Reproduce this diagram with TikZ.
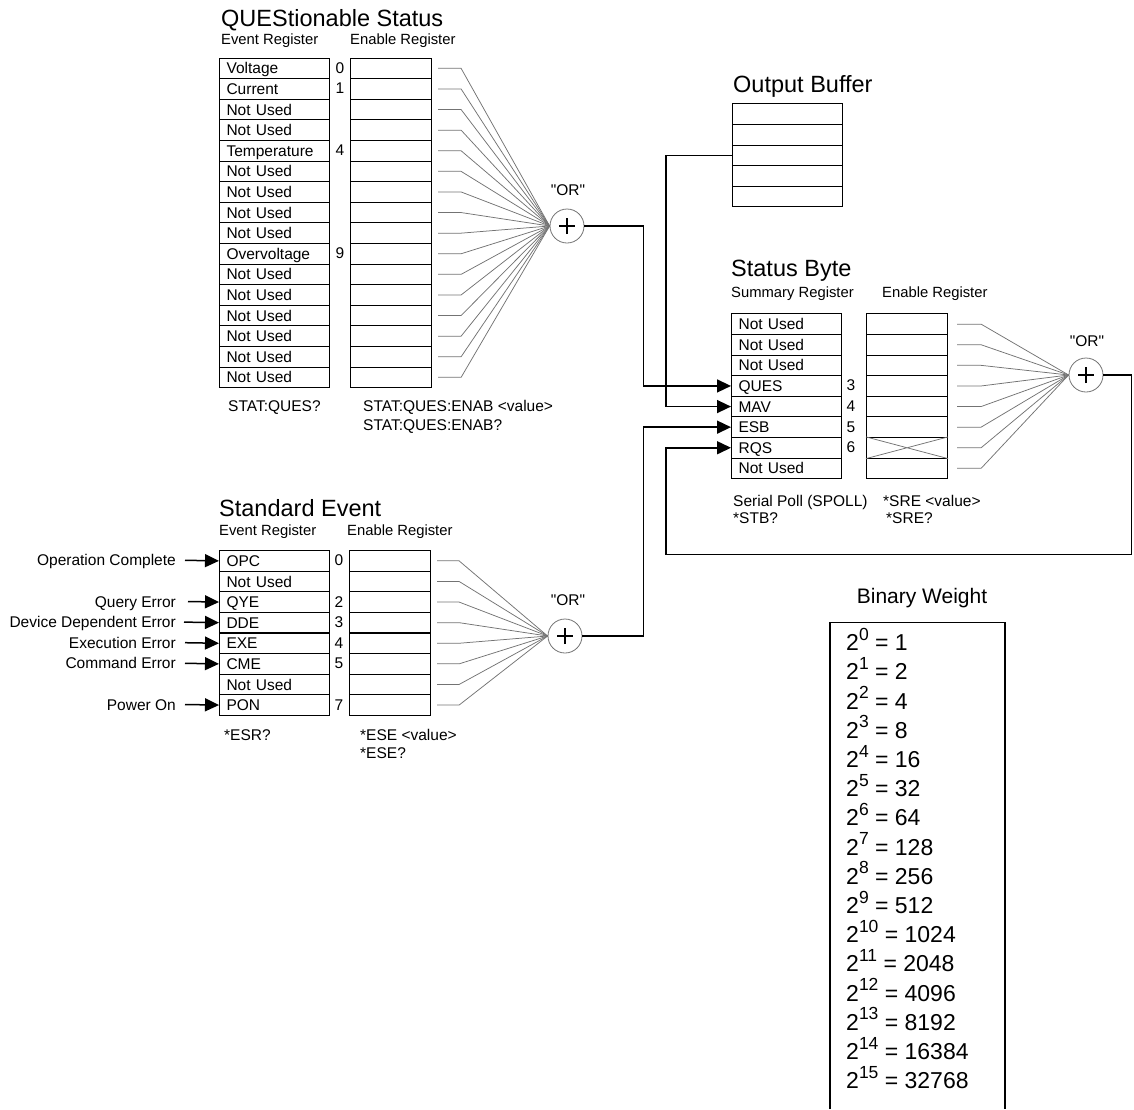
\documentclass[tikz,border=0pt]{standalone}
\usepackage{fontspec}
\setmainfont{Liberation Sans}
\newfontfamily\plainq{Liberation Sans}
\usetikzlibrary{arrows.meta}
\newcommand\fRow{\fontsize{15.5}{18}\selectfont}
\newcommand\fSub{\fontsize{14.8}{17}\selectfont}
\newcommand\fTitle{\fontsize{23.5}{27}\selectfont}
\newcommand\fBW{\fontsize{21}{25}\selectfont}
\newcommand\fPow{\fontsize{23}{27}\selectfont}
\newcommand\fSup{\fontsize{17.5}{19}\selectfont}
\begin{document}
\begin{tikzpicture}[x=1pt,y=-1pt,
  reg/.style={draw, line width=1.1pt, minimum height=20.6pt, inner xsep=7pt, inner ysep=0pt,
    anchor=north west, font=\fRow, text height=11.1pt, text depth=0pt, align=left},
  evt/.style={reg, text width=96pt},
  enb/.style={reg, minimum width=81pt},
  bit/.style={font=\fRow, text height=11.1pt, text depth=0pt, inner sep=0pt},
  lbl/.style={font=\fRow, text height=11.1pt, text depth=0pt, inner sep=0pt, anchor=east},
  txt/.style={font=\fRow, anchor=base west, inner sep=0pt},
  sub/.style={font=\fSub, anchor=base west, inner sep=0pt},
  ttl/.style={font=\fTitle, anchor=base west, inner sep=0pt},
  orgate/.style={circle, draw=black!55, line width=0.8pt, minimum size=34pt, inner sep=0pt},
  orlbl/.style={font=\fRow\plainq, inner sep=0pt},
  plus/.style={draw, line width=1.3pt},
  fan/.style={draw=black!55, line width=0.75pt},
  conn/.style={draw, line width=1.5pt},
  arr/.style={conn, -{Triangle[length=14pt,width=13pt]}}
]
\useasboundingbox (0,0) rectangle (1134,1109);

% ---------------- QUEStionable Status ----------------
\node[ttl] (qt) at (221,26) {QUEStionable Status};
\node[sub] (qs1) at (221,44.5) {Event Register};
\node[sub] (qs2) at (350,44.5) {Enable Register};
\foreach \t [count=\i from 0] in {Voltage,Current,Not Used,Not Used,Temperature,Not Used,Not Used,Not Used,Not Used,Overvoltage,Not Used,Not Used,Not Used,Not Used,Not Used,Not Used} {
  \node[evt] (qv\i) at (219,57.5+20.6*\i) {\t};
  \node[enb] (qe\i) at (350,57.5+20.6*\i) {};
}
\foreach \b in {0,1,4,9}
  \node[bit] (qb\b) at (340,67.8+20.6*\b) {\b};
\node[orgate] (qor) at (567,226) {};
\draw[plus] ([xshift=-8pt]qor.center) -- ([xshift=8pt]qor.center)
            ([yshift=-8pt]qor.center) -- ([yshift=8pt]qor.center);
\node[orlbl] (qorl) at (568,190) {"OR"};
\foreach \i in {0,...,15}
  \draw[fan] ([xshift=6pt]qe\i.east) -- ++(23,0) -- (qor.west);
\node[txt] (qc1) at (228,411) {STAT:QUES?};
\node[txt] (qc2) at (363,411) {STAT:QUES:ENAB <value>};
\node[txt] (qc3) at (363,430) {STAT:QUES:ENAB?};

% ---------------- Output Buffer ----------------
\node[ttl] (obt) at (733,92.5) {Output Buffer};
\foreach \i in {0,...,4}
  \node[enb, minimum width=110pt] (ob\i) at (732,103.3+20.6*\i) {};

% ---------------- Status Byte ----------------
\node[ttl] (sbt) at (731,276.7) {Status Byte};
\node[sub] (sbs1) at (731,297) {Summary Register};
\node[sub] (sbs2) at (882,297) {Enable Register};
\foreach \t [count=\i from 0] in {Not Used,Not Used,Not Used,QUES,MAV,ESB,RQS,Not Used} {
  \node[evt] (sb\i) at (731,313.3+20.6*\i) {\t};
  \node[enb] (sn\i) at (866,313.3+20.6*\i) {};
}
\foreach \b in {3,4,5,6}
  \node[bit] (sbb\b) at (851,323.6+20.6*\b) {\b};
\draw[fan] (sn6.north west) -- (sn6.south east) (sn6.south west) -- (sn6.north east);
\node[orgate] (sor) at (1086,375) {};
\draw[plus] ([xshift=-8pt]sor.center) -- ([xshift=8pt]sor.center)
            ([yshift=-8pt]sor.center) -- ([yshift=8pt]sor.center);
\node[orlbl] (sorl) at (1087,341) {"OR"};
\foreach \i in {0,...,7}
  \draw[fan] ([xshift=9pt]sn\i.east) -- ++(24,0) -- (sor.west);
\node[txt] (sc1) at (733,506) {Serial Poll (SPOLL)};
\node[txt] (sc2) at (733,523.5) {*STB?};
\node[txt] (sc3) at (883,506) {*SRE <value>};
\node[txt] (sc4) at (886,523.5) {*SRE?};

% ---------------- Standard Event ----------------
\node[ttl] (et) at (219,516.7) {Standard Event};
\node[sub] (es1) at (219,535) {Event Register};
\node[sub] (es2) at (347,535) {Enable Register};
\foreach \t [count=\i from 0] in {OPC,Not Used,QYE,DDE,EXE,CME,Not Used,PON} {
  \node[evt] (ev\i) at (219,550+20.6*\i) {\t};
  \node[enb] (en\i) at (349,550+20.6*\i) {};
}
\foreach \b in {0,2,3,4,5,7}
  \node[bit] (evb\b) at (339,560.3+20.6*\b) {\b};
\node[orgate] (eor) at (565,636) {};
\draw[plus] ([xshift=-8pt]eor.center) -- ([xshift=8pt]eor.center)
            ([yshift=-8pt]eor.center) -- ([yshift=8pt]eor.center);
\node[orlbl] (eorl) at (568,600) {"OR"};
\foreach \i in {0,...,7}
  \draw[fan] ([xshift=6pt]en\i.east) -- ++(22,0) -- (eor.west);
\foreach \r/\t/\g in {0/Operation Complete/9,2/Query Error/12,3/Device Dependent Error/8,4/Execution Error/9,5/Command Error/9,7/Power On/9} {
  \node[lbl] (in\r) at (176,560.3+20.6*\r) {\t};
  \draw[arr] ([xshift=\g pt]in\r.east) -- (ev\r.west);
}
\node[txt] (ec1) at (224,740.5) {*ESR?};
\node[txt] (ec2) at (360,740.5) {*ESE <value>};
\node[txt] (ec3) at (360,758.5) {*ESE?};

% ---------------- Connectors ----------------
\draw[arr] (qor.east) -- ++(59,0) |- (sb3.west);
\draw[arr] (ob2.west) -- ++(-66,0) |- (sb4.west);
\draw[arr] (eor.east) -- ++(61,0) |- (sb5.west);
\coordinate (loopc) at (666,554.3);
\draw[arr] (sor.east) -- ++(28,0) |- (loopc) |- (sb6.west);

% ---------------- Binary Weight ----------------
\node[font=\fBW, anchor=base, inner sep=0pt] (bwt) at (922,603.3) {Binary Weight};
\draw[line width=1.1pt] (830,1109) -- (830,622.7) -- (1005,622.7) -- (1005,1109);
\foreach \e/\pw [count=\k from 0] in {0/1,1/2,2/4,3/8,4/16,5/32,6/64,7/128,8/256,9/512,10/1024,11/2048,12/4096,13/8192,14/16384,15/32768}
  \node[font=\fPow, anchor=base west, inner sep=0pt] (bw\e) at (846,650.7+29.2*\k) {2\raisebox{10.5pt}{\fSup\e} = \pw};

\end{tikzpicture}
\end{document}
